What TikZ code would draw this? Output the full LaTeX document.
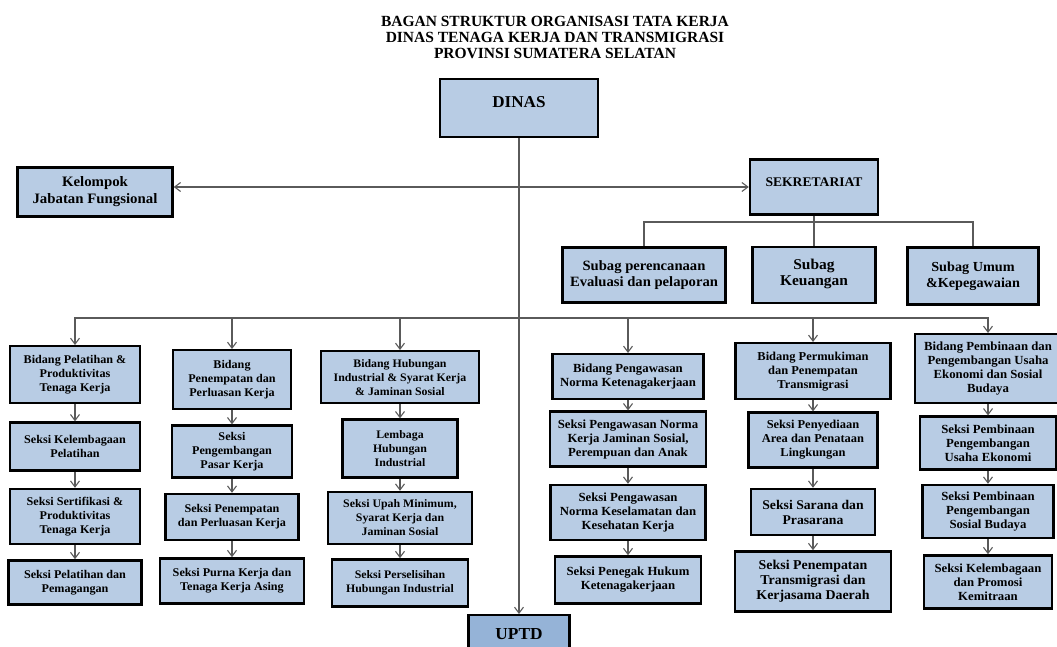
\documentclass[tikz,border=0pt]{standalone}
\usepackage{fontspec}
\setmainfont{Liberation Serif}
\newfontfamily\boxfont[FakeStretch=1.03]{Liberation Serif}
\usetikzlibrary{arrows.meta,positioning}
\definecolor{boxblue}{RGB}{184,204,228}
\definecolor{uptdblue}{RGB}{149,179,215}
\definecolor{wire}{RGB}{90,90,90}

\begin{document}
\begin{tikzpicture}[
    x=1pt, y=-1pt,
    unit/.style={rectangle, draw=black, line width=2.4pt, fill=boxblue,
                 align=center, inner sep=2pt,
                 font=\boxfont\bfseries\fontsize{12.1}{14}\selectfont},
    fs/.style 2 args={font=\boxfont\bfseries\fontsize{#1}{#2}\selectfont},
    arr/.style={-{Straight Barb[length=6pt,width=9pt]}, line width=1.1pt, wire},
    arrboth/.style={{Straight Barb[length=6pt,width=9pt]}-{Straight Barb[length=6pt,width=9pt]},
                    line width=1.1pt, wire},
    link/.style={line width=1.1pt, wire}
]
\useasboundingbox (0,0) rectangle (1057,646);

% Title
\node[font=\bfseries\fontsize{15.5}{16}\selectfont, align=center] (title) at (555,37)
    {BAGAN STRUKTUR ORGANISASI TATA KERJA\\DINAS TENAGA KERJA DAN TRANSMIGRASI\\PROVINSI SUMATERA SELATAN};

% Top level
\node[unit, fs={16.6}{18}, text depth=12pt, minimum width=158pt, minimum height=58pt] (dinas) at (519,108) {DINAS};
\node[unit, fs={14.4}{17}, minimum width=155pt, minimum height=49pt] (kjf) at (95,192) {Kelompok\\Jabatan Fungsional};
\node[unit, fs={13.2}{14}, text depth=10pt, minimum width=128pt, minimum height=55pt] (sek) at (814,187) {SEKRETARIAT};

% Subbagian
\node[unit, fs={14.2}{16}, minimum width=163pt, minimum height=55pt] (sub1) at (644,275) {Subag perencanaan\\Evaluasi dan pelaporan};
\node[unit, fs={15}{15.5}, text depth=5pt, minimum width=123pt, minimum height=56pt] (sub2) at (814,275) {Subag\\Keuangan};
\node[unit, fs={13.8}{15.5}, minimum width=131pt, minimum height=57pt] (sub3) at (973,276) {Subag Umum\\\&Kepegawaian};
\coordinate (sekbar) at (814,222);

% Bidang (first row)
\node[unit, fs={11.8}{14}, anchor=north, minimum width=130pt, minimum height=57pt] (b1) at (75,345) {Bidang Pelatihan \&\\Produktivitas\\Tenaga Kerja};
\node[unit, fs={11.8}{14}, anchor=north, minimum width=118pt, minimum height=59pt] (b2) at (232,349) {Bidang\\Penempatan dan\\Perluasan Kerja};
\node[unit, fs={11.5}{14}, anchor=north, minimum width=158pt, minimum height=52pt] (b3) at (400,350) {Bidang Hubungan\\Industrial \& Syarat Kerja\\\& Jaminan Sosial};
\node[unit, fs={12.4}{14}, anchor=north, minimum width=151pt, minimum height=45pt] (b4) at (628,353) {Bidang Pengawasan\\Norma Ketenagakerjaan};
\node[unit, anchor=north, minimum width=155pt, minimum height=56pt] (b5) at (813,342) {Bidang Permukiman\\dan Penempatan\\Transmigrasi};
\node[unit, fs={12.4}{14}, anchor=north, minimum width=146pt, minimum height=69pt] (b6) at (988,333) {Bidang Pembinaan dan\\Pengembangan Usaha\\Ekonomi dan Sosial\\Budaya};

% Seksi column 1
\node[unit, fs={11.8}{14}, below=17pt of b1, minimum width=130pt, minimum height=48pt] (s11) {Seksi Kelembagaan\\Pelatihan};
\node[unit, fs={11.8}{14}, below=16pt of s11, minimum width=130pt, minimum height=55pt] (s12) {Seksi Sertifikasi \&\\Produktivitas\\Tenaga Kerja};
\node[unit, fs={11.8}{14}, below=14pt of s12, minimum width=133pt, minimum height=44pt] (s13) {Seksi Pelatihan dan\\Pemagangan};

% Seksi column 2
\node[unit, fs={11.8}{14}, below=14pt of b2, minimum width=120pt, minimum height=52pt] (s21) {Seksi\\Pengembangan\\Pasar Kerja};
\node[unit, fs={11.8}{14}, below=14pt of s21, minimum width=133pt, minimum height=46pt] (s22) {Seksi Penempatan\\dan Perluasan Kerja};
\node[unit, fs={11.8}{14}, below=16pt of s22, minimum width=144pt, minimum height=45pt] (s23) {Seksi Purna Kerja dan\\Tenaga Kerja Asing};

% Seksi column 3
\node[unit, fs={11.5}{14}, below=14pt of b3, minimum width=115pt, minimum height=58pt] (s31) {Lembaga\\Hubungan\\Industrial};
\node[unit, fs={11.5}{14}, below=12pt of s31, minimum width=144pt, minimum height=52pt] (s32) {Seksi Upah Minimum,\\Syarat Kerja dan\\Jaminan Sosial};
\node[unit, fs={11.5}{14}, below=13pt of s32, minimum width=136pt, minimum height=47pt] (s33) {Seksi Perselisihan\\Hubungan Industrial};

% Seksi column 4
\node[unit, fs={12.4}{14}, below=10pt of b4, minimum width=156pt, minimum height=55pt] (s41) {Seksi Pengawasan Norma\\Kerja Jaminan Sosial,\\Perempuan dan Anak};
\node[unit, fs={12.4}{14}, below=16pt of s41, minimum width=155pt, minimum height=55pt] (s42) {Seksi Pengawasan\\Norma Keselamatan dan\\Kesehatan Kerja};
\node[unit, fs={12.4}{14}, below=14pt of s42, minimum width=146pt, minimum height=47pt] (s43) {Seksi Penegak Hukum\\Ketenagakerjaan};

% Seksi column 5
\node[unit, below=11pt of b5, minimum width=129pt, minimum height=55pt] (s51) {Seksi Penyediaan\\Area dan Penataan\\Lingkungan};
\node[unit, fs={13.3}{15}, below=19pt of s51, minimum width=124pt, minimum height=46pt] (s52) {Seksi Sarana dan\\Prasarana};
\node[unit, fs={13.5}{15}, below=14pt of s52, minimum width=156pt, minimum height=60pt] (s53) {Seksi Penempatan\\Transmigrasi dan\\Kerjasama Daerah};

% Seksi column 6
\node[unit, fs={12.4}{14}, below=11pt of b6, minimum width=136pt, minimum height=53pt] (s61) {Seksi Pembinaan\\Pengembangan\\Usaha Ekonomi};
\node[unit, fs={12.4}{14}, below=13pt of s61, minimum width=131pt, minimum height=53pt] (s62) {Seksi Pembinaan\\Pengembangan\\Sosial Budaya};
\node[unit, fs={12.4}{14}, below=15pt of s62, minimum width=128pt, minimum height=53pt] (s63) {Seksi Kelembagaan\\dan Promosi\\Kemitraan};

% UPTD
\node[unit, fill=uptdblue, fs={16.8}{18}, anchor=north, minimum width=101pt, minimum height=38pt] (uptd) at (519,614) {UPTD};
\coordinate (bus) at (519,318);

% Connectors
\draw[arr] (dinas) -- (uptd);
\draw[arrboth] (kjf.east |- sek.west) -- (sek.west);
\draw[link] (sek) -- (sub2);
\draw[link] (sub1.north) |- (sekbar) -| (sub3.north);

\draw[arr] (bus) -| (b1.north);
\draw[arr] (bus) -| (b2.north);
\draw[arr] (bus) -| (b3.north);
\draw[arr] (bus) -| (b4.north);
\draw[arr] (bus) -| (b5.north);
\draw[arr] (bus) -| (b6.north);

\draw[arr] (b1) -- (s11);
\draw[arr] (s11) -- (s12);
\draw[arr] (s12) -- (s13);
\draw[arr] (b2) -- (s21);
\draw[arr] (s21) -- (s22);
\draw[arr] (s22) -- (s23);
\draw[arr] (b3) -- (s31);
\draw[arr] (s31) -- (s32);
\draw[arr] (s32) -- (s33);
\draw[arr] (b4) -- (s41);
\draw[arr] (s41) -- (s42);
\draw[arr] (s42) -- (s43);
\draw[arr] (b5) -- (s51);
\draw[arr] (s51) -- (s52);
\draw[arr] (s52) -- (s53);
\draw[arr] (b6) -- (s61);
\draw[arr] (s61) -- (s62);
\draw[arr] (s62) -- (s63);
\end{tikzpicture}
\end{document}
